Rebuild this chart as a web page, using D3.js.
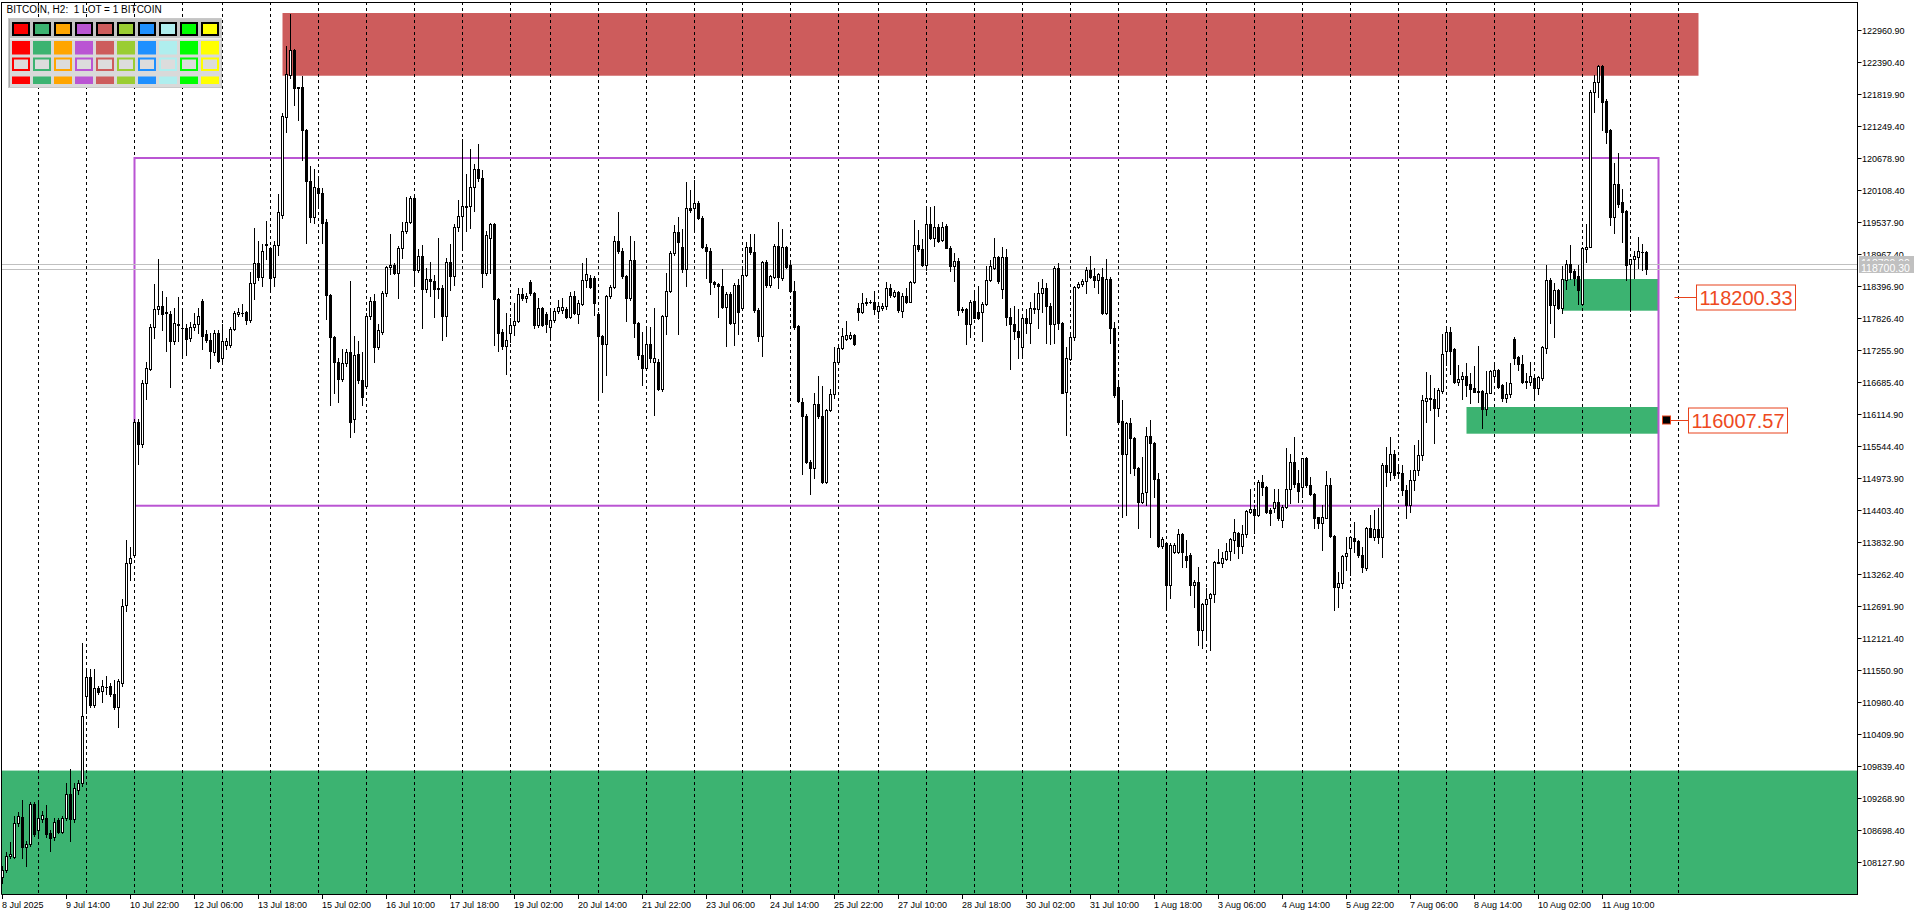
<!DOCTYPE html>
<html><head><meta charset="utf-8">
<script src="https://cdn.jsdelivr.net/npm/d3@7"></script>
<style>
html,body{margin:0;padding:0;background:#fff;overflow:hidden;}
svg{display:block;font-family:"Liberation Sans",Arial,sans-serif;}
</style></head><body>
<svg id="chart" width="1920" height="915"></svg>
<script>
// ---------------- DATA (BITCOIN, H2) ----------------
const opens = [
107862,107991,108239,108229,108823,108942,108407,108457,109170,108704,
108902,108922,108655,108575,108882,108674,108922,109348,108902,109417,
109546,111101,111428,110933,111230,111180,111260,111279,111131,110903,
111329,112715,113458,113607,115984,115588,116677,116925,117667,117984,
118044,117915,117895,117420,117717,117648,117648,117469,117667,117717,
118133,117539,117440,117222,117568,117123,117350,117350,117638,117895,
117915,117935,117796,118460,118806,118559,119133,119074,118559,119133,
119668,121420,122169,122610,121950,121945,121183,120272,119628,120143,
120064,119549,118242,117489,117053,116746,117024,117222,116033,117192,
116727,116627,117865,118143,117321,117588,118281,118737,118777,118638,
119084,119381,119549,119975,118687,118933,118345,118531,118483,118363,
118375,117871,118825,118585,119461,119647,119833,119833,120163,120493,
120331,118633,119263,119503,118165,117583,117331,117565,117703,117775,
118261,118183,118471,118285,117715,118015,117901,117673,117805,117961,
117973,117991,117841,118225,117895,118081,118501,118543,118543,117901,
117505,117373,118225,118393,119203,119035,118585,118183,118873,117745,
117181,116941,117367,117043,117055,116563,117865,118315,118993,119365,
119095,118711,119785,119785,119881,119611,119101,119023,118465,118435,
118405,118021,118261,117751,118423,118003,118603,119101,119005,117973,
117505,118825,118423,118561,119113,118543,119095,118783,118315,117685,
116335,116083,115273,115153,116305,116083,114913,116185,116485,117055,
117295,117463,117475,117523,118015,117931,118105,118111,118123,117955,
118003,118045,118363,118231,118303,117961,118225,118123,118465,119125,
119053,118783,119515,119251,119455,119215,119473,119083,118765,118855,
117991,117991,117733,118135,117943,117943,118081,118513,118723,118915,
118343,118913,117844,117725,117600,117309,117826,117737,117986,117986,
118271,118360,118046,117725,118717,117748,116506,117095,117487,118390,
118432,118491,118687,118580,118509,118557,117915,118527,117647,116607,
115995,115401,115954,115686,115151,114557,114735,115728,115597,114955,
113773,113814,113071,113654,113654,113975,113594,113606,113071,113131,
112269,112727,112834,112905,113464,113458,113535,113677,113874,114004,
113767,113975,114367,114420,114319,114902,114813,114408,114438,114557,
114230,114468,114777,115270,114884,114824,115342,114854,114688,114278,
114171,114272,114854,113945,113030,113101,113588,113725,113915,113856,
113606,113380,114082,113933,114064,113921,115211,115092,115401,115092,
115074,114765,114498,114944,115122,115389,116358,116400,116382,116233,
116536,117244,117576,117279,116685,116738,116798,116655,116578,116530,
116530,116203,116501,116804,116905,116637,116412,116471,117457,117131,
117012,116709,116685,116768,116578,116756,117303,118509,118064,118331,
118016,118509,118789,118670,118581,118082,119062,119104,121855,122045,
122325,121701,121184,119638,120215,119894,119739,118795,118884,118925,119014,119003];

const highs = [
108060,108308,108486,108952,109021,109239,108506,109199,109199,109199,
109051,109150,108704,108922,108922,108952,109546,109794,109546,109596,
112042,111576,111576,111576,111279,111378,111458,111329,111378,111398,
112814,113874,113755,116033,116033,116727,117043,117717,118440,118876,
118311,118212,117964,118014,118212,118014,117717,117766,117915,118014,
118163,117618,117568,117618,117618,117717,117469,117667,117964,118014,
118083,117964,118658,119430,119202,119153,119569,119103,119202,120044,
121486,122681,123251,122622,121950,122151,121201,120540,120490,120341,
120143,119599,118262,117519,117123,117271,117271,118489,117519,117420,
117222,117915,118212,118262,117717,118311,118757,119331,118806,119123,
119549,119995,120015,119995,119054,119131,118723,118825,118603,119251,
118423,118903,119143,119503,119935,121015,120403,120853,120583,120931,
120463,119383,119533,119521,118183,117643,117913,117823,118093,118363,
118363,118273,118513,118303,118195,118033,117943,118003,118003,118153,
118183,118033,118303,118315,118153,118813,118903,118603,118573,117943,
117523,118243,118423,119293,119713,119083,118603,119293,119203,117763,
117583,117673,117673,118003,117103,117883,118633,119023,119485,119635,
119425,120265,120115,120295,119923,119653,119143,119083,118483,118453,
118705,118303,118303,118453,118525,118711,119185,119323,119323,118003,
118843,118873,118603,119143,119551,119425,119113,118813,118495,117703,
116413,116113,115303,116503,116791,116623,116203,116563,117313,117343,
117661,117781,117583,117553,118093,118285,118183,118153,118315,118093,
118093,118465,118435,118333,118315,118273,118363,118483,119575,119395,
119233,119803,119815,119833,119503,119545,119503,119113,118993,118903,
118033,118015,118153,118315,118411,118123,118753,118873,119263,118933,
119103,119062,118004,118046,117992,117885,117992,118123,118271,118479,
118527,118450,118093,118759,118806,117766,117321,117529,118402,118479,
118521,118735,118937,118717,118640,118717,118878,118557,117766,116667,
116370,115983,116043,115716,115181,115359,115894,116013,115627,115062,
113933,113844,113814,113814,114064,113992,113874,113636,113160,113398,
112744,113012,112935,113499,113707,113666,113814,113903,114248,114022,
114141,114408,114777,114498,114943,115032,114836,114438,114777,114777,
114498,115508,115407,115716,115122,115342,115359,115003,114706,114290,
114498,115104,114973,113963,113309,113606,113933,113945,114200,113874,
113755,114111,114319,114408,114438,115252,115538,115716,115478,115181,
115211,114854,115122,115568,115657,116459,116875,116816,116578,116578,
117547,117689,117677,117291,116994,116875,117036,116845,116976,117339,
116548,116887,116905,117041,116917,116649,116697,117024,117499,117154,
117172,116857,117053,116786,116798,117333,118777,118539,118462,118343,
118759,118866,119133,118700,118777,119104,119508,121897,122164,122343,
122343,121730,121196,120601,120768,120126,119757,118884,119026,119270,119151,119020];

const lows = [
107763,107961,108209,108209,108783,108209,108060,108427,108605,108605,
108853,108585,108328,108526,108645,108645,108882,108506,108853,109348,
109497,110784,110903,110903,111131,110982,111131,111101,110863,110536,
111279,112616,113161,113577,115221,115538,116380,116905,117469,117895,
117618,117241,116608,117370,117420,117172,117172,117420,117618,117568,
117271,117400,116944,117172,117043,117024,117271,117321,117618,117865,
117865,117717,117766,118163,118509,118410,118876,118291,118410,118955,
119618,121153,122116,121629,121362,120649,119173,119549,119519,119797,
119173,117816,116281,116499,116330,116707,116974,115706,115805,116677,
116281,116578,117816,117043,117271,117539,118232,118608,118608,118182,
118905,119351,119519,118410,118658,117655,118303,118231,117853,118195,
117445,117511,118333,118423,119383,119053,119383,119443,119743,120283,
118393,118603,118633,117343,117235,117283,116833,117403,117523,117763,
118153,118123,118243,117661,117673,117691,117583,117463,117763,117913,
117913,117823,117823,117895,117751,118063,118381,118363,117883,116425,
116521,116815,118183,118363,118993,118543,117775,118153,117493,117103,
116641,116923,117043,116095,116551,116533,117553,118303,118963,117553,
118645,118405,119713,119413,119593,119083,118543,118261,118393,117853,
118003,117325,117733,117343,117553,117973,118573,118975,117943,117415,
117163,118393,118393,118543,118363,118513,118723,118303,117643,116335,
115054,115243,114691,114973,116053,114895,114883,116167,116401,117031,
117271,117433,117451,117343,117793,117913,118063,118093,117901,117823,
117973,117991,118213,118213,117943,117853,118093,118111,118453,119023,
118753,118693,119233,119113,119185,119203,119071,118663,118483,117883,
117943,117373,117493,117823,117811,117415,118063,118495,118711,118453,
118182,117707,116916,117451,117113,117113,117558,117392,117915,117647,
117944,117380,117362,117392,117630,116489,115746,117083,117439,118360,
118402,118271,118539,118390,118271,117897,117903,117380,116429,115954,
114290,114319,115062,115032,114094,114527,114498,113933,114646,113755,
113725,112626,112834,113636,113636,113398,113398,112893,112685,112002,
111942,112091,111912,112774,113458,113398,113517,113517,113636,113547,
113636,113933,114349,113992,114302,114676,114349,114141,114379,114230,
114111,114450,114527,114824,114557,114646,114824,114676,114094,114082,
113695,114260,113933,112626,112685,113012,113339,113250,113666,113576,
113309,113339,113921,113874,113814,113564,114836,114943,114973,115003,
114676,114266,114373,114765,115033,115300,115984,116192,115609,116085,
116489,116994,116833,116667,116637,116388,116447,116322,116518,116340,
115877,116102,116489,116726,116578,116358,116340,116429,117006,116905,
116667,116578,116637,116370,116471,116726,117214,117749,117487,117986,
117927,118343,118521,118420,118081,118064,118836,119104,121510,121778,
121184,120946,119490,119341,119817,119193,118509,117950,118551,118717,118688,118616];

const closes = [
107991,108239,108268,108823,108962,108407,108457,109170,108635,108922,
108972,108625,108556,108853,108674,108922,109348,108902,109447,109546,
110735,111428,110933,111230,111160,111279,111250,111131,110903,111359,
112696,113458,113557,115984,115588,116677,116944,117667,117984,118044,
117895,117935,117420,117737,117707,117657,117459,117667,117717,117865,
117519,117440,117241,117568,117073,117420,117420,117638,117915,117935,
117925,117796,118460,118806,118559,119034,119153,118539,119133,119727,
121433,122182,122610,121927,121927,121183,120272,119628,120173,120064,
119519,118242,117489,117053,116746,117024,117222,115984,117172,116727,
116429,117865,118143,117321,117618,118281,118737,118777,118638,119084,
119381,119549,119975,118687,118935,118345,118531,118483,118345,118351,
117871,118825,118585,119461,119647,119833,119815,120163,120493,120331,
118633,119305,119503,118165,117565,117331,117433,117703,117775,118261,
118183,118231,118273,117715,118015,117715,117733,117805,117961,118021,
118033,117841,118225,117925,118105,118501,118621,118381,118093,117505,
117373,118225,118393,119203,119035,118585,118183,118873,117745,117181,
116941,117367,117121,117121,116563,117865,118315,118993,119365,119185,
118711,119785,119755,119881,119611,119101,119023,118465,118435,118405,
118021,118261,117751,118423,117931,118603,119101,119005,117973,117505,
118825,118423,118573,119113,118555,119095,118735,118315,117673,116353,
116083,115273,115153,116305,116083,114913,116185,116485,117055,117295,
117505,117523,117523,117373,117931,118093,118111,118123,117985,118045,
118045,118375,118243,118291,117973,118231,118123,118465,119125,119053,
118783,119515,119251,119455,119203,119461,119083,118765,118855,117973,
117973,117733,118123,117835,117835,118081,118513,118753,118915,118483,
118913,117844,117725,117600,117487,117826,117737,118004,118016,118271,
118360,118046,117725,118717,117748,116500,117124,117499,118390,118432,
118491,118687,118569,118509,118610,117915,118527,117647,116459,115983,
115401,115954,115686,115151,114557,114718,115728,115597,114955,113773,
113891,113071,113784,113784,113975,113654,113517,113071,113131,112269,
112727,112822,112905,113475,113475,113547,113677,113885,114010,113767,
113975,114391,114420,114319,114902,114813,114379,114349,114557,114260,
114468,114777,115258,114872,114747,115330,114854,114688,114272,114171,
114278,114854,113945,113030,113101,113588,113636,113933,113856,113606,
113398,114082,113933,114064,113921,115211,115092,115401,115032,115074,
114765,114498,114944,115122,115389,116370,116400,116382,116233,116548,
117190,117576,117249,116685,116744,116804,116637,116566,116518,116518,
116203,116501,116887,116905,116608,116412,116471,116679,117125,117006,
116685,116685,116798,116578,116786,117321,118509,118064,118331,118004,
118521,118789,118658,118551,118331,119074,119104,121855,122033,122325,
121689,121154,119638,120215,119864,119728,118777,118884,118937,119026,119003,118700.3];

// time axis: bar index of each label, and label text
const timeTickIndex = [0,16,32,48,64,80,96,112,128,144,160,176,192,208,224,240,256,272,288,304,320,336,352,368,384,400];
const timeTickLabels = ["8 Jul 2025","9 Jul 14:00","10 Jul 22:00","12 Jul 06:00","13 Jul 18:00","15 Jul 02:00",
  "16 Jul 10:00","17 Jul 18:00","19 Jul 02:00","20 Jul 14:00","21 Jul 22:00","23 Jul 06:00","24 Jul 14:00",
  "25 Jul 22:00","27 Jul 10:00","28 Jul 18:00","30 Jul 02:00","31 Jul 10:00","1 Aug 18:00","3 Aug 06:00",
  "4 Aug 14:00","5 Aug 22:00","7 Aug 06:00","8 Aug 14:00","10 Aug 02:00","11 Aug 10:00"];
// bar index where each new day begins (vertical grid)
const dayStartIndex = [9,21,33,45,55,67,79,91,103,115,127,137,149,161,173,185,197,209,219,231,243,255,267,279,291,301,313,325,337,349,361,373,383,395,407,419];
// price axis tick labels
const priceTicks = [108127.90,108698.40,109268.90,109839.40,110409.90,110980.40,111550.90,112121.40,112691.90,
  113262.40,113832.90,114403.40,114973.90,115544.40,116114.90,116685.40,117255.90,117826.40,118396.90,
  118967.40,119537.90,120108.40,120678.90,121249.40,121819.90,122390.40,122960.90];

// zones: [fromBar, toBar, topPrice, bottomPrice]
const supplyZone = [70, 424, 123269, 122151];
const baseDemandZone = [-2, 470, 109763, 106000];
const demandZoneUpper = [390, 414, 118527, 117962];
const demandZoneLower = [366, 414, 116245, 115769];
const rangeBox = [33, 414, 120684, 114485];
// price labels: [anchorBar, price]
const priceLabelUpper = [418, 118200.33];
const priceLabelLower = [416, 116007.57];
const bidPrice = 118700.30, askPrice = 118789.90;
const paletteColors = ['#FF0000','#3CB371','#FFA500','#BA55D3','#CD5C5C','#9ACD32','#1E90FF','#AFEEEE','#00FF00','#FFFF00'];
const titleText = "BITCOIN, H2:  1 LOT = 1 BITCOIN";

// ---------------- LAYOUT ----------------
const plot = {left: 2, right: 1857, top: 2, bottom: 894};
const svg = d3.select('#chart');
const x = d3.scaleLinear().domain([0, 1]).range([2.5, 6.5]);
const y = d3.scaleLinear().domain([108127.9, 122960.9]).range([862.3, 30.3]);

svg.append('defs').append('clipPath').attr('id', 'plotClip')
  .append('rect').attr('x', plot.left).attr('y', plot.top)
  .attr('width', plot.right - plot.left).attr('height', plot.bottom - plot.top);

const gPlot = svg.append('g').attr('clip-path', 'url(#plotClip)');

function zoneRect(z, color) {
  gPlot.append('rect')
    .attr('x', x(z[0])).attr('y', y(z[2]))
    .attr('width', x(z[1]) - x(z[0])).attr('height', y(z[3]) - y(z[2]))
    .attr('fill', color);
}
zoneRect(supplyZone, '#CD5C5C');
zoneRect(baseDemandZone, '#3CB371');
zoneRect(demandZoneUpper, '#3CB371');
zoneRect(demandZoneLower, '#3CB371');

// vertical dashed day grid
gPlot.selectAll('line.grid').data(dayStartIndex).join('line')
  .attr('class', 'grid')
  .attr('x1', d => x(d)).attr('x2', d => x(d))
  .attr('y1', plot.top).attr('y2', plot.bottom)
  .attr('stroke', '#000').attr('stroke-width', 1).attr('stroke-dasharray', '3,3');

// range box
gPlot.append('rect')
  .attr('x', x(rangeBox[0])).attr('y', y(rangeBox[2]))
  .attr('width', x(rangeBox[1]) - x(rangeBox[0])).attr('height', y(rangeBox[3]) - y(rangeBox[2]))
  .attr('fill', 'none').attr('stroke', '#BA55D3').attr('stroke-width', 2);

// bid / ask lines
[askPrice, bidPrice].forEach(p => {
  const yy = Math.round(y(p)) + 0.5;
  gPlot.append('line').attr('x1', plot.left).attr('x2', plot.right).attr('y1', yy).attr('y2', yy)
    .attr('stroke', '#C0C0C0').attr('stroke-width', 1);
});

// candles
const idx = d3.range(opens.length);
const gC = gPlot.append('g');
gC.selectAll('rect.wick').data(idx).join('rect').attr('class', 'wick')
  .attr('x', i => Math.round(x(i) - 0.5))
  .attr('y', i => Math.round(y(Math.max(highs[i], opens[i], closes[i]))))
  .attr('width', 1)
  .attr('height', i => Math.max(1, Math.round(y(Math.min(lows[i], opens[i], closes[i]))) - Math.round(y(Math.max(highs[i], opens[i], closes[i]))) + 1))
  .attr('fill', '#000');
idx.forEach(i => {
  const o = opens[i], c = closes[i];
  const cx = Math.round(x(i) - 0.5);
  const yt = Math.round(y(Math.max(o, c))), yb = Math.round(y(Math.min(o, c)));
  if (c > o && yb - yt >= 2) {
    gC.append('rect').attr('x', cx - 0.5).attr('y', yt + 0.5).attr('width', 2).attr('height', yb - yt)
      .attr('fill', '#fff').attr('stroke', '#000').attr('stroke-width', 1);
  } else {
    gC.append('rect').attr('x', cx - 1).attr('y', yt).attr('width', 3).attr('height', Math.max(1, yb - yt + 1))
      .attr('fill', '#000');
  }
});

// price labels on the right
function priceLabel(lbl, withMarker) {
  const ax = x(lbl[0]);
  const yy = Math.round(y(lbl[1])) + 0.5;
  const g = gPlot.append('g');
  let lineStart = ax;
  if (withMarker) {
    g.append('rect').attr('x', ax - 4).attr('y', yy - 4.5).attr('width', 8).attr('height', 8)
      .attr('fill', '#000').attr('stroke', '#E8431C').attr('stroke-width', 1);
    lineStart = ax + 4.5;
  }
  g.append('line').attr('x1', lineStart).attr('x2', ax + 22).attr('y1', yy).attr('y2', yy)
    .attr('stroke', '#E8431C').attr('stroke-width', 1);
  g.append('rect').attr('x', ax + 22).attr('y', yy - 12.5).attr('width', 99).attr('height', 25)
    .attr('fill', '#fff').attr('stroke', '#E8431C').attr('stroke-width', 1);
  g.append('text').attr('x', ax + 71.5).attr('y', yy + 7).attr('text-anchor', 'middle')
    .attr('font-size', 20).attr('fill', '#EE4A1E').text(lbl[1].toFixed(2));
}
priceLabel(priceLabelUpper, false);
priceLabel(priceLabelLower, true);

// palette panel (top-left)
const gP = svg.append('g');
gP.append('rect').attr('x', 8).attr('y', 18).attr('width', 214).attr('height', 70).attr('fill', '#D9D9D9');
gP.append('rect').attr('x', 8).attr('y', 18).attr('width', 214).attr('height', 21).attr('fill', '#C4C4C4');
gP.append('rect').attr('x', 8).attr('y', 38).attr('width', 214).attr('height', 1.5).attr('fill', '#EDEDED');
gP.append('rect').attr('x', 8).attr('y', 18).attr('width', 2).attr('height', 70).attr('fill', '#A8A8A8');
gP.append('rect').attr('x', 8.5).attr('y', 18.5).attr('width', 213).attr('height', 69)
  .attr('fill', 'none').attr('stroke', '#C8C8C8').attr('stroke-width', 1);
paletteColors.forEach((col, k) => {
  const sx = 12 + 21 * k;
  gP.append('rect').attr('x', sx + 1).attr('y', 23).attr('width', 16).attr('height', 12)
    .attr('fill', col).attr('stroke', '#000').attr('stroke-width', 2);
  gP.append('rect').attr('x', sx).attr('y', 41).attr('width', 18).attr('height', 13.5).attr('fill', col);
  gP.append('rect').attr('x', sx + 1).attr('y', 58.5).attr('width', 16).attr('height', 11.5)
    .attr('fill', '#DCDCDC').attr('stroke', col).attr('stroke-width', 2);
  gP.append('rect').attr('x', sx).attr('y', 76.5).attr('width', 18).attr('height', 7.5).attr('fill', col);
});
svg.append('text').attr('x', 6.5).attr('y', 12.5).attr('font-size', 10).attr('fill', '#000')
  .style('white-space', 'pre').text(titleText);

// frame
svg.append('line').attr('x1', 1.5).attr('x2', 1.5).attr('y1', plot.top).attr('y2', plot.bottom + 0.5).attr('stroke', '#000');
svg.append('line').attr('x1', 1.5).attr('x2', plot.right + 0.5).attr('y1', 2.5).attr('y2', 2.5).attr('stroke', '#000');
svg.append('line').attr('x1', plot.right + 0.5).attr('x2', plot.right + 0.5).attr('y1', 2).attr('y2', plot.bottom + 1).attr('stroke', '#000');
svg.append('line').attr('x1', 1.5).attr('x2', plot.right + 1).attr('y1', plot.bottom + 0.5).attr('y2', plot.bottom + 0.5).attr('stroke', '#000');

// price axis
const gY = svg.append('g');
gY.selectAll('line').data(priceTicks).join('line')
  .attr('x1', plot.right + 0.5).attr('x2', plot.right + 4.5)
  .attr('y1', d => Math.round(y(d)) + 0.5).attr('y2', d => Math.round(y(d)) + 0.5)
  .attr('stroke', '#000');
gY.selectAll('text').data(priceTicks).join('text')
  .attr('x', plot.right + 5).attr('y', d => Math.round(y(d)) + 3.5)
  .attr('font-size', 9).attr('fill', '#000').text(d => d.toFixed(2));

// bid/ask tags (bid drawn last, on top of ask as in the terminal)
[askPrice, bidPrice].forEach(p => {
  const yy = Math.round(y(p));
  gY.append('rect').attr('x', plot.right + 2).attr('y', yy - 8).attr('width', 55).attr('height', 12).attr('fill', '#C0C0C0');
  gY.append('text').attr('x', plot.right + 4).attr('y', yy + 2.5).attr('font-size', 10.5).attr('fill', '#fff').text(p.toFixed(2));
});

// time axis
const gX = svg.append('g');
gX.selectAll('line').data(timeTickIndex).join('line')
  .attr('x1', d => x(d)).attr('x2', d => x(d))
  .attr('y1', plot.bottom + 0.5).attr('y2', plot.bottom + 5)
  .attr('stroke', '#000');
gX.selectAll('text').data(timeTickIndex).join('text')
  .attr('x', d => x(d) - 0.5).attr('y', plot.bottom + 14)
  .attr('font-size', 9).attr('fill', '#000')
  .text((d, k) => timeTickLabels[k]);
</script>
</body></html>
